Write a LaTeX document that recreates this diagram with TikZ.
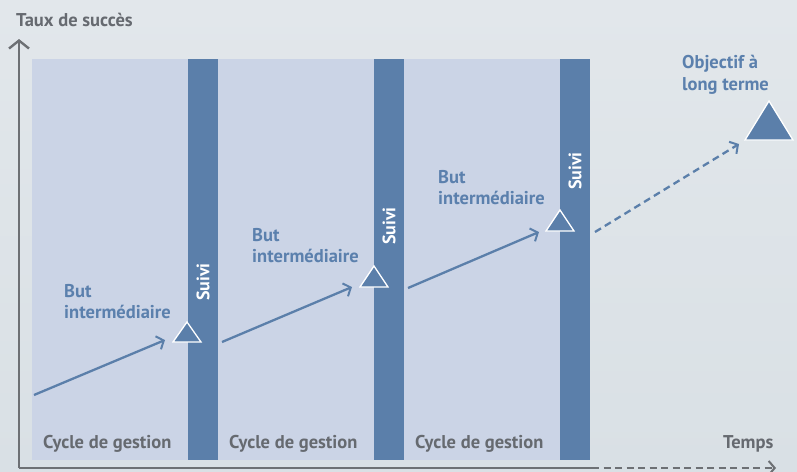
\documentclass[tikz,border=0pt]{standalone}
\usepackage{fontspec}
\setmainfont{PT Sans}
\usetikzlibrary{arrows.meta}
\definecolor{bgtop}{HTML}{E2E7EB}
\definecolor{bgbot}{HTML}{D9E0E5}
\definecolor{panel}{HTML}{CBD4E6}
\definecolor{barblue}{HTML}{5B7FAA}
\definecolor{axisgray}{HTML}{6D7074}
\definecolor{labelblue}{HTML}{5B80AD}
\definecolor{textgray}{HTML}{666A70}
\tikzset{
  barbox/.style={fill=barblue, draw=none},
  flow/.style={draw=barblue, line width=2.3pt, -{Straight Barb[length=6pt,width=14pt,line width=2pt]}},
  flowdash/.style={flow, dash pattern=on 7pt off 4.5pt},
  axisline/.style={draw=axisgray, line width=2.6pt},
  goal/.style={fill=barblue, draw=white, line width=1.3pt, line join=miter},
  lbl/.style={text=labelblue, font=\bfseries\fontsize{18.5}{21.5}\selectfont, inner sep=0pt, align=left},
  gray/.style={text=textgray, font=\bfseries\fontsize{18.5}{21.5}\selectfont, inner sep=0pt},
  suivi/.style={text=white, font=\bfseries\fontsize{18}{21}\selectfont, inner sep=0pt, rotate=90}
}
\begin{document}
\begin{tikzpicture}[x=1pt,y=-1pt]
\shade[top color=bgtop, bottom color=bgbot] (0,0) rectangle (797,471);
\useasboundingbox (0,0) rectangle (797,471);
% panel
\fill[panel] (32,59) rectangle (590,460);
% bars
\node[barbox, anchor=north west, minimum width=30pt, minimum height=401pt, inner sep=0pt] (bar1) at (188,59) {};
\node[barbox, anchor=north west, minimum width=30pt, minimum height=401pt, inner sep=0pt] (bar2) at (374,59) {};
\node[barbox, anchor=north west, minimum width=30pt, minimum height=401pt, inner sep=0pt] (bar3) at (560,59) {};
\node[suivi] (s1) at (203,282) {Suivi};
\node[suivi] (s2) at (389,226) {Suivi};
\node[suivi] (s3) at (575,171) {Suivi};
% axes
\coordinate (origin) at (19,468);
\coordinate (ytop) at (19,39);
\coordinate (xmid) at (592,468);
\coordinate (xend) at (776,468);
\draw[axisline, -{Straight Barb[length=8pt,width=20pt,line width=2.4pt]}] (origin) -- (ytop);
\draw[axisline] (origin) -- (xmid);
\draw[axisline, line width=2.2pt, dash pattern=on 7pt off 4.5pt, -{Straight Barb[length=6pt,width=14pt,line width=2pt]}] (xmid) -- (xend);
\node[gray, anchor=base west] (ylab) at (16,26) {Taux de succès};
\node[gray, anchor=base west] (xlab) at (723,448) {Temps};
\node[gray, anchor=base west] (c1) at (43,448) {Cycle de gestion};
\node[gray, anchor=base west] (c2) at (229,448) {Cycle de gestion};
\node[gray, anchor=base west] (c3) at (415,448) {Cycle de gestion};
% goals
\coordinate (g1) at (187,332);
\coordinate (g2) at (374,276);
\coordinate (g3) at (560,220);
\coordinate (g4) at (769,120);
\draw[goal] (173,342) -- (187,322) -- (201,342) -- cycle;
\draw[goal] (360,287) -- (374,266) -- (388,287) -- cycle;
\draw[goal] (546,231) -- (560,210) -- (574,231) -- cycle;
\draw[goal] (745,140) -- (769,101) -- (793,140) -- cycle;
% flows
\coordinate (f1s) at (34,395); \coordinate (f1e) at (165,340);
\coordinate (f2s) at (222,342); \coordinate (f2e) at (352,287);
\coordinate (f3s) at (408,288); \coordinate (f3e) at (539,232);
\coordinate (f4s) at (595,232); \coordinate (f4e) at (739,144);
\draw[flow] (f1s) -- (f1e);
\draw[flow] (f2s) -- (f2e);
\draw[flow] (f3s) -- (f3e);
\draw[flowdash] (f4s) -- (f4e);
% labels
\node[lbl, anchor=north west] (b1) at (64,284) {But\\intermédiaire};
\node[lbl, anchor=north west] (b2) at (252,228) {But\\intermédiaire};
\node[lbl, anchor=north west] (b3) at (438,170) {But\\intermédiaire};
\node[lbl, anchor=north west] (goaltext) at (682,55) {Objectif à\\long terme};
\end{tikzpicture}
\end{document}
